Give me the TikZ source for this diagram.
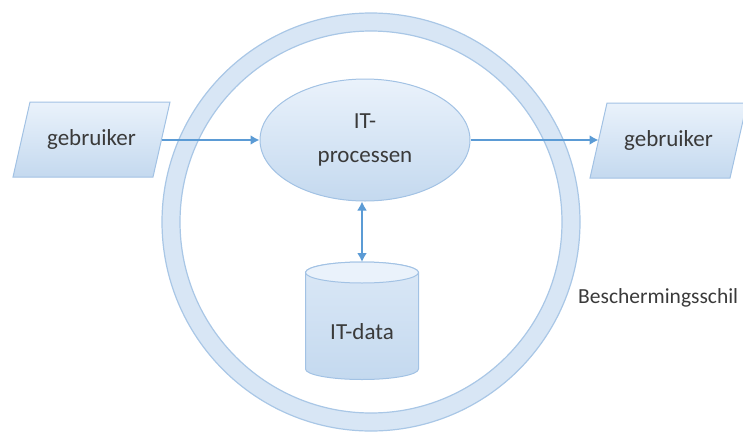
\documentclass[tikz,border=0pt]{standalone}
\usepackage{fontspec}
\setmainfont{Carlito}
\usetikzlibrary{shapes.geometric,arrows.meta}

\definecolor{ringfill}{HTML}{D8E6F5}
\definecolor{ringline}{HTML}{A9C7E6}
\definecolor{shapetop}{HTML}{EAF2FB}
\definecolor{shapebot}{HTML}{C4D9EF}
\definecolor{shapeline}{HTML}{A2C2E4}
\definecolor{flow}{HTML}{5B9BD5}
\definecolor{label}{HTML}{3A3A3A}

\tikzset{
  shapefill/.style={draw=shapeline, line width=1pt, top color=shapetop, bottom color=shapebot},
  textstyle/.style={text=label, font=\fontsize{23}{34}\selectfont, align=center, inner sep=0pt},
  procbox/.style={shapefill, textstyle, ellipse, minimum width=210pt, minimum height=122pt},
  flowline/.style={draw=flow, line width=2.8pt, -{Latex[length=9pt,width=10pt]}},
  flowboth/.style={draw=flow, line width=2.8pt, {Latex[length=9pt,width=10pt]}-{Latex[length=9pt,width=10pt]}}
}

\begin{document}
\begin{tikzpicture}[x=1pt,y=-1pt]
  \useasboundingbox (0,0) rectangle (743,442);
  \clip (0,0) rectangle (743,442);

  % protective ring
  \path[fill=ringfill, even odd rule, draw=ringline, line width=1.2pt]
    (371,222) circle[radius=209] (371,222) circle[radius=191];

  % user on the left (parallelogram)
  \path[shapefill] (30,102) -- (170,102) -- (153,177) -- (13,177) -- cycle;
  \node[textstyle] (userin) at (91.5,139.5) {gebruiker};
  \coordinate (inport) at (161.5,140);

  % user on the right (parallelogram)
  \path[shapefill] (607,103) -- (747,103) -- (730,178) -- (590,178) -- cycle;
  \node[textstyle] (userout) at (668.5,140.5) {gebruiker};
  \coordinate (outport) at (598.5,140);

  % process
  \node[procbox] (proc) at (365,140) {IT-\\processen};

  % data store (cylinder)
  \coordinate (dbtop) at (362,262);
  \path[draw=shapeline, line width=1pt, top color=shapetop!60!shapebot, bottom color=shapebot]
    (305.5,272.5) -- (305.5,369) arc[start angle=180, end angle=0, x radius=56.5, y radius=10.5]
    -- (418.5,272.5) arc[start angle=0, end angle=-180, x radius=56.5, y radius=10.5] -- cycle;
  \path[draw=shapeline, line width=1pt, fill=shapetop]
    (362,272.5) ellipse[x radius=56.5, y radius=10.5];
  \node[textstyle] (data) at (362,332) {IT-data};

  % flows
  \draw[flowline] (inport) -- (proc.west);
  \draw[flowline] (proc.east) -- (outport);
  \draw[flowboth] (proc.south -| dbtop) -- (dbtop);

  % ring label
  \node[anchor=west, text=label, font=\fontsize{21.5}{26}\selectfont, inner sep=0pt] (shield) at (578,298) {Beschermingsschil};
\end{tikzpicture}
\end{document}
